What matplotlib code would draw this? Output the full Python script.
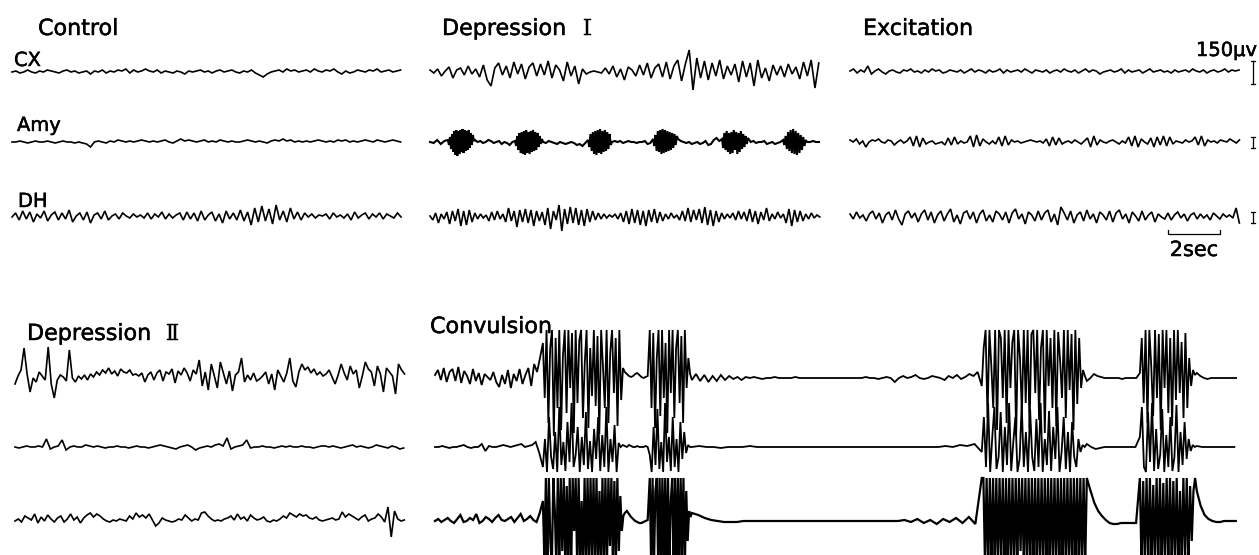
import numpy as np
import matplotlib
matplotlib.use('Agg')
import matplotlib.pyplot as plt
import matplotlib.patheffects as pe

# EEG TRACES: CONTROL / DEPRESSION I / EXCITATION / DEPRESSION II / CONVULSION
# -----------------------------------------------------------------------------

# DATA (pen deflection, px; positive = upward). -------------------------------

CHANNELS = ['CX', 'Amy', 'DH']
CONDITIONS_TOP = ['Control', 'Depression', 'Excitation']
CONDITIONS_BOTTOM = ['Depression', 'Convulsion']
STAGE_NUMERALS = ['\u2160', '\u2161']  # Roman I (top), II (bottom)

CTRL_CX = [0, 1, -1, 0, 2, 0, -1, 1, 0, 2, 1, 0, -1, 1, 2, 0, 1, -1, 0, 1,
           -2, 1, 0, 2, -1, 1, 0, 2, 1, 3, -1, 2, 0, 1, 3, 1, 0, 2, -1, 1,
           0, -1, 1, 0, -2, 1, 0, 1, 2, 0, 1, -1, 1, 2, 0, 1, 2, 0, -1, 1,
           0, 2, -1, -3, -5, -2, 0, 1, 2, 0, 3, 1, 2, 0, 1, 2, 0, 3, 1, 0,
           2, 1, 3, 0, -2, 1, -1, 0, 2, 1, 0, 2, 1, 3, 0, 1, 2, 0, 1, 2]
CTRL_AMY = [0, 0, 1, 0, -1, 0, 1, 0, 0, 1, 0, -1, 0, 1, 0, 0, -1, 0, -1, -2,
            -5, 0, 1, 0, -1, 1, 0, 2, 1, 0, 1, 0, 1, 2, 1, 0, 1, 0, 1, 2,
            0, -1, 1, 3, 1, 2, 1, 0, 1, 2, 0, 1, 0, 2, 1, 0, 1, 0, 0, 1,
            2, 1, 0, 1, 0, -1, 1, 2, 1, 3, 1, 2, 0, 1, 0, 1, 0, 1, 2, 1,
            0, 1, 0, 2, 1, 2, 0, 1, 0, 1, 2, 1, 0, 2, 1, 0, 1, 2, 1, 0]
CTRL_DH = [0, 4, -3, 6, -2, 5, -5, 3, -1, 6, -4, 2, 5, -3, 4, -2, 7, -5, 1, 4,
           -3, 5, -6, 2, 4, -2, 6, -3, 1, 3, -2, 4, 1, -1, 3, 0, 2, -1, 4, -2,
           3, 0, 5, -2, 3, -1, 2, 4, -3, 5, -2, 4, -4, 6, -3, 2, 5, -4, 3, -6,
           6, -2, 4, -3, 7, -4, 5, -8, 9, -5, 11, -4, 8, -7, 12, -3, 6, -5, 9, -2,
           5, -3, 4, 0, 3, -1, 2, 1, 3, -2, 4, 0, 2, -1, 3, -3, 5, -1, 2, 4,
           -2, 3, 0, 4, -2, 3, 1, -1, 4, 0]

DEP1_CX = [2, -1, 3, -4, 1, 5, -6, 2, 4, -3, 6, -2, 3, -5, 7, -8, -14, 4, 9, -3,
           6, -6, 10, -2, 8, -7, 5, 9, -4, 8, -3, 11, -6, 7, 2, -9, 10, -4, 6, -12,
           3, -2, 0, 1, 0, -1, 4, -2, 6, -5, 3, -8, 5, 2, -4, 7, -3, 9, -6, 4,
           8, -5, 10, -7, 6, 12, -9, 8, 22, -18, 14, -6, 11, -8, 9, -4, 12, -7, 6, -3,
           8, -10, 11, -5, 9, -14, 12, -6, 4, -9, 7, -3, 6, -5, 8, -2, 5, -7, 10, -4,
           12, -16, 9]
# Amygdala spindle bursts: alternating quiet / burst stretches (seconds).
DEP1_AMY_SEC = [0.69, 1.04, 1.54, 1.08, 1.73, 0.92, 1.58, 0.96, 1.69, 1.00,
                1.35, 0.92, 0.58]
DEP1_AMY = [
    [0, -1, 2, -2, 1],
    [2, -3, 5, -7, 8, -10, 11, -13, 12, -14, 11, -12, 12, -10, 13, -11, 12,
     -9, 11, -8, 12, -6, 9, -3, 7, 1],
    [2, 0, 1, -1, 0, 2, 1, -1, 0, 1, -2, 0, -1, -3, 0],
    [1, -4, 6, -8, 9, -11, 10, -12, 11, -13, 12, -11, 10, -12, 11, -10, 12,
     -9, 10, -8, 9, -5, 6, -2, 3],
    [0, -1, 1, 0, -1, -2, 0, -1, -2, -1, 0, -1, -3, -2, -4, -1],
    [2, -5, 8, -9, 10, -12, 11, -13, 12, -11, 13, -12, 11, -10, 12, -9, 10,
     -7, 8, -3],
    [0, 1, 0, 1, -1, 0, 1, 0, 0, -1, 0, 0, 1, -2, -1],
    [3, -4, 7, -9, 11, -10, 12, -12, 13, -11, 12, -10, 11, -9, 10, -8, 9, -6,
     8, -3, 6],
    [3, 1, 0, -1, 0, -2, -1, 0, -2, -1, 1, -3, -2, 2, 4, 1],
    [3, -6, 9, -8, 11, -10, 9, -12, 10, -11, 12, -8, 10, -12, 9, -10, 11, -7,
     8, -5, 6, -2],
    [4, 0, 1, -1, 0, 0, 1, -2, -1, 0, -2, -1, 0],
    [2, -3, 6, -7, 10, -9, 12, -11, 13, -12, 11, -13, 9, -11, 7, -8, 5, -4, 2],
    [0, 0, 1, 0, 0]]
DEP1_DH = [1, -3, 4, -6, 3, -2, 5, -7, 6, -4, 8, -9, 6, -8, 7, -5, 4, -2, 3, -1,
           2, -4, 5, -3, 6, -2, 3, -5, 9, -4, 6, -10, 7, -5, 8, -6, 7, -9, 6, -4,
           5, -8, 9, -12, 6, -3, 12, -14, 8, -7, 10, -6, 9, -8, 7, -9, 8, -5, 6, -3,
           4, -2, 3, -1, 2, 0, 3, -2, 4, -5, 6, -7, 8, -6, 7, -8, 6, -9, 7, -5,
           8, -6, 5, -4, 3, -2, 4, -1, 2, -3, 6, -4, 9, -5, 7, -3, 8, -6, 10, -8,
           7, -9, 6, -5, 4, -2, 3, -1, 4, -3, 6, -2, 5, -4, 8, -5, 6, -7, 5, -3,
           9, -4, 3, -2, 5, -1, 3, -6, 8, -9, 7, -5, 6, -4, 3, -2, 4, -1, 2, 0]

EXC_CX = [1, 3, -1, 2, 0, 6, -2, 1, 3, 0, -2, 1, 2, 0, -1, 2, 1, 3, 0, 1,
          -1, 2, 0, 3, 1, 2, -1, 0, 2, 1, 0, 2, -1, 1, 3, 0, 2, 1, -1, 2,
          0, 1, 3, -1, 2, 0, 1, 2, 0, 3, 1, -1, 2, 1, 0, 2, -1, 1, 2, 0,
          3, 1, 0, 2, -1, 1, 3, 0, 2, 1, -2, 0, 1, 2, 0, 1, 3, -1, 2, 0,
          1, 2, -1, 1, 3, 0, 1, 2, 0, 1, -1, 2, 0, 1, 2, 0, 3, 1, 0, 2,
          -1, 1, 2, 0, 1, 3, 0, 2, 1, 2]
EXC_AMY = [2, 0, 3, -2, 1, -5, 0, 2, 1, 3, 0, -1, 2, 1, -3, 0, 2, -1, 1,
           5, -4, 6, -5, 4, -2, 0, 1, -2, -1, 0, -3,
           4, -3, 5, -2, 1, -1, 0,
           6, -5, 7, -4, 3, 0, -2,
           1, -2, 5, -4, 6, -3, 2, 0, 1, -1, 0, 1, 2, 1, 0, 1, -1,
           3, -4, 5, -3, 4, -2, 0, 1, -1, 2, 0, -2, 1,
           4, -5, 6, -3, 2, 0, -1, 1, 2, 0, -2, 1, -1,
           5, -4, 6, -5, 3, 0, -2,
           4, -5, 5, -3,
           6, -4, 5, -2, 1, 0, -1, 2, 0, 1,
           5, -3, 6, -4, 2, 0, 1, -1, 2, 1, 0, 3, 1, -1, 2]
EXC_DH = [3, -2, 5, -1, 2, -4, 3, 6, -2, 4, -6, 2, 5, -3, 7, -2, -8, 3, 6, -1,
          4, -5, 3, 7, -3, 5, -6, 2, 6, -4, 3, 8, -5, 2, -7, 4, 6, -2, 5, -6,
          3, 7, -4, 2, -5, 6, 3, -3, 5, -6, 4, 8, -2, 3, -7, 5, 2, -4, 6, -3,
          4, 7, -5, 3, -8, 10, 4, -3, 6, -6, 2, 5, -4, 7, -2, 3, -6, 5, 2, -3,
          6, -5, 4, 7, -2, 3, -6, 5, 1, -4, 6, -3, 2, 5, -5, 3, 0, -2, 4, -3,
          2, 5, -1, 3, -4, 2, 4, -2, 3, -1, 2, -3, 4, 1, -2, 3, 0, 2, -1, 9, -6]

DEP2_CX = [-6, 2, 8, 30, 4, -14, 0, -4, 6, 2, -2, 31, -6, -20, -2, 3, 1, -3, 28, 0,
           -4, 2, -1, 3, -2, 4, 1, 6, 3, 8, 5, 10, 4, 7, 2, 9, 6, 5, 8, 3,
           4, 2, 5, -4, 3, 6, -2, 5, 8, -3, 6, 4, 9, -5, 7, 3, 10, 5, -3, 8,
           4, 18, -8, 6, -12, 14, 2, -10, 16, 5, -6, 7, -13, 3, 6, 20, -4, 3, -2, 5,
           -3, -1, 2, 6, -6, 4, -12, 8, 2, -4, 5, 20, -3, -9, 6, 14, 8, 11, 5, 9,
           3, 6, 2, 4, 8, 1, -6, 3, 14, 5, -2, 12, 4, 8, -10, 2, 16, 9, 6, -8,
           12, 4, -14, 10, 6, 2, -16, 14, 8, 4]
DEP2_AMY = [0, -1, 0, 1, 0, 0, 1, 0, 8, -2, 0, 1, 7, -3, 0, 1, 0, 0, 2, 1,
            0, 1, 0, -1, 0, 0, 1, 0, 0, -1, 0, 1, 0, 0, -1, 0, 1, 2, 1, 0,
            -1, -2, 0, 1, 2, 0, -3, -1, 0, 1, 0, 2, 3, 1, 9, -2, 0, 1, 2, 7,
            -1, 0, 0, 1, 0, 0, -1, 0, 1, 0, 1, 0, 0, 1, 0, 0, -1, 0, 1, 1,
            0, 1, 0, -1, 0, 1, 2, 0, 1, 0, -1, 0, 2, 1, 0, -1, 1, 0, -2, -1]
DEP2_DH = [0, 2, -1, 5, 3, 1, 7, -2, 4, 0, 6, 2, -1, 3, 5, -1, 2, 7, 1, 4,
           -2, 3, 6, 8, 4, 7, 5, 2, 0, -1, 1, 0, 2, 1, 0, 5, 2, 8, 4, 6,
           3, 7, 1, -5, -2, 3, 1, 0, -1, 0, 2, 1, 6, 3, 0, 2, 1, 8, 9, 5,
           2, 0, 1, 0, 2, 3, 5, 1, 7, 2, 4, 0, 6, 3, 1, 2, 4, 0, -1, 1,
           0, 2, 5, 3, 8, 6, 4, 7, 5, 6, 3, 2, 4, 1, 0, 1, 2, 3, 1, 2,
           9, 4, 7, 5, 3, 1, 4, 6, 0, 2, 3, 7, 4, -1, 14, -16, 10, 2, 0, 1]

# Convulsion: pre-ictal, burst, pause, burst, silence, burst, pause, burst, end.
CONV_SEC = [4.15, 3.15, 0.96, 1.62, 11.15, 4.04, 2.04, 2.19, 1.65]
CONV_CX = [
    [3, 8, -2, 10, -4, 6, 9, -3, 11, -5, 7, 2, -6, 9, -3, 5, -7, 4, 1, -2, 6,
     -4, -9, 3, -6, 8, -10, 4, -3, 9, -6, 3, 10, -8, 14, 6, 20],
    [35, -20, 48, -45, 30, 48, -58, 40, -30, 48, -52, 22, 48, -35, 48, -10, 45,
     -55, 48, -25, 38, 48, -40, 15, 48, -50, 30, -18, 48, -28, 42, -56, 48, 12,
     -30, 48, -45, 26, 48, -15, 40, -48, 48, -22, 10],
    [6, 4, 2, 1, 2, 4, 5, 3, 1, 0, 1, 2],
    [48, -30, 45, -50, 20, 48, -38, 48, -20, 35, -55, 48, -15, 48, -40, 30, 48,
     -25, 42, -45, 48, -10, 20, 4],
    [-2, 4, -3, 3, -4, 2, -3, 3, -2, 2, -1, 1, -2, 1, 0, 1, 0, -1, 0, 0, 1, 0,
     0, 0, 0, 1, 0, 0, 0, 0, 0, 0, 0, 0, 0, 0, 0, 0, 0, 0, 0, 0, 1, 0, 0, -1,
     0, 1, 0, -4, 0, 2, 0, 1, 3, 0, -1, 0, 2, 1, 0, -2, 2, 0, 3, -1, 1, 4, 2, 6],
    [-8, 30, 48, -40, 48, 12, -30, 48, -52, 48, 40, -20, 48, -45, 48, -10, 36,
     48, -58, 48, 20, -35, 48, -25, 48, -50, 44, 48, -15, 48, -42, 30, 48, -55,
     48, -8, 40, -30, 48, -48, 46, 18, -20, 48, -40, 48, -12, 44, -52, 48, -26,
     40, -10, 8, 2],
    [-3, 0, 4, 2, 1, 0, 0, 0, 0, 0, -1, 0, 0, 0, 0],
    [5, 40, -25, 48, -45, 48, 12, -38, 48, -20, 44, -52, 48, -10, 48, -35, 40,
     -48, 48, -22, 48, -15, 36, -40, 45, -30, 20, -8, 8, 3],
    [5, 2, 0, -1, 0, 0, 0, 0, 0, 0, 0, 0]]
CONV_AMY = [
    [0, 0, 1, 0, -1, 0, 0, 1, 2, 0, -1, 0, 0, 3, -4, 1, 0, 0, 1, 2, 1, 0, 1, 2,
     3, 0, 1, 2, 5, -6],
    [-20, 8, -25, 30, -10, -22, 15, -25, 40, -18, 5, -24, 25, -15, 44, -20, -8,
     20, -25, 10, -18, 35, -22, 6, -25, 18, -12, 30, -24, 12, -20, 40, -25, 8,
     -15, 22, -25, 4, 0, 2],
    [1, 0, 2, 1, 0, 0, 1, 0, 0, 0, 1, 0],
    [-8, -25, 20, -18, 38, -22, 5, -25, 44, -15, 10, -24, 30, -20, 8, -25, 25,
     -12, 15, -6, 2, 0],
    [0, 1, 0, 0, -1, 0, 0, 0, 1, 0, 0, 0, 0, 0, 0, 0, 0, 0, 0, 0, 0, 0, 0, 0,
     0, 0, 0, 0, 0, 0, 0, 0, 0, 0, 0, 1, 0, 2, 1, 3],
    [-5, 30, -20, 44, -25, 10, 40, -22, -10, 35, -25, 20, -18, 44, -24, 5, 30,
     -25, -12, 42, -20, 15, -25, 38, -10, -24, 28, -20, 44, -25, 8, -18, 36,
     -24, 20, -12, 40, -25, -5, 30, -22, 15, -25, 25, -10, -20, 8, -5, 2, 0],
    [3, 0, -2, -1, 0, 0, 0, 0, 0, 0, 0, 0],
    [10, 40, -20, -25, 35, -15, 44, -24, 18, -22, -8, 38, -25, 12, -20, 30, -24,
     -10, 42, -25, 15, -18, 25, -12, 8, -4, 2, 0],
    [1, 0, 0, 0, 0, 0, 0, 0]]
CONV_DH = [
    [0, 2, -1, 1, 3, 0, -2, 2, 6, -1, 0, 3, 1, 7, -2, 0, 4, 2, -1, 3, 6, 1, 0,
     2, 4, -1, 3, 7, 0, 2, 5, 1, -1, 8],
    [20, -40, 43, -45, 43, -20, -45, 43, 10, -45, 43, -40, 43, -30, 43, -45, 35,
     -45, 43, -45, 43, -10, 43, -45, 43, -45, 20, -45, 43, -45, 43, -45, 43,
     -38, 43, -45, 43, -45, 30, -45, 43, -45, 43, -45, 43, -25, 43, -45, 40,
     -45, 43, -30, 25, -10, 5],
    [8, 10, 7, 4, 2, 0, -1, -2, -2, -1, 0, 1],
    [43, -45, 43, -45, 30, 43, -45, 43, -45, 43, -40, 43, -45, 43, -45, 20, 43,
     -45, 43, -45, 43, -45, 43, -35, 43, -45, 30, -20, 10, 4],
    [8, 6, 3, 1, 0, -1, -1, -1, 0, 0, 0, 0, 0, 0, 0, 0, 0, 0, 0, 0, 0, 0, 0, 0,
     0, 0, 0, 0, 0, 0, 0, 0, 0, 1, -1, 2, -2, 1, -3, 2, -1, 3, -2, 4, -3],
    [43, 43, -45, 43, -45, 43, -45, 43, -45, 43, -45, 43, -40, 43, -45, 43, -45,
     43, -45, 43, -45, 43, -45, 43, -30, 43, -45, 43, -45, 43, -45, 43, -45,
     43, -45, 43, -45, 43, -45, 43, -45, 43, -45, 43, -45, 43, -45, 43, -45,
     43, -45, 43, -45, 43, -45, 43, -45, 43, -45, 43, -45, 43, -45, 43, -45],
    [43, 30, 18, 10, 5, 1, -2, -3, -3, -2, -2, -2, -2, -2],
    [43, -45, 40, -45, 43, -40, 43, -45, 36, -45, 43, -42, 43, -45, 38, -45, 43,
     -40, 43, -45, 40, -45, 43, -45, 30, -45, 43, -38, 43, -45, 35, -20, 30,
     43],
    [30, 15, 6, 2, 0, -1, -1, 0, 0, 0, 0]]

# LAYOUT. ---------------------------------------------------------------------

W, H = 1259, 555
PX_PER_SEC = 26.0  # 2 sec = 52 px on the time bar.
TOP_SEC = 15.1
TOP_X = [12, 430, 850]
TOP_Y = [72, 142, 217]
BOT_X = [15, 435]
BOT_Y = [378, 447, 521]
CAL_UV = 150
CAL_BAR_PX = [23, 11, 11]  # Length of the 150 uV bar for CX, Amy, DH.
CAL_X = 1253
TIME_BAR_SEC = 2
TIME_BAR_X, TIME_BAR_Y = 1168, 234

FONT = 'DejaVu Sans'
INK = [pe.withStroke(linewidth=0.35, foreground='black')]  # scanned-ink weight


def draw_trace(ax, x_start, base_y, widths_sec, chunks, lw=1.0):
    """Plot a trace made of consecutive stretches of evenly spaced samples."""
    xs, ys = [], []
    t = 0.0
    for w, vals in zip(widths_sec, chunks):
        n = len(vals)
        xs.append(t + w * np.arange(n) / n)
        ys.append(np.asarray(vals, dtype=float))
        t += w
    x = x_start + np.concatenate(xs) * PX_PER_SEC
    y = base_y - np.concatenate(ys)
    ax.plot(x, y, color='black', lw=lw, solid_joinstyle='miter')


# PLOT. -----------------------------------------------------------------------

fig = plt.figure(figsize=(W / 100, H / 100), dpi=100)
ax = fig.add_axes([0, 0, 1, 1])
ax.set_xlim(0, W)
ax.set_ylim(H, 0)
ax.axis('off')

# Top row: single stretches.
top_traces = [[CTRL_CX, CTRL_AMY, CTRL_DH],
              [DEP1_CX, None, DEP1_DH],
              [EXC_CX, EXC_AMY, EXC_DH]]
for c, col in enumerate(top_traces):
    for r, vals in enumerate(col):
        if vals is None:
            continue
        draw_trace(ax, TOP_X[c], TOP_Y[r], [TOP_SEC], [vals], lw=1.2)
draw_trace(ax, TOP_X[1], TOP_Y[1], DEP1_AMY_SEC, DEP1_AMY, lw=1.5)

# Bottom row.
for r, vals in enumerate([DEP2_CX, DEP2_AMY, DEP2_DH]):
    draw_trace(ax, BOT_X[0], BOT_Y[r], [TOP_SEC], [vals], lw=1.2)
for r, chunks in enumerate([CONV_CX, CONV_AMY, CONV_DH]):
    draw_trace(ax, BOT_X[1], BOT_Y[r], CONV_SEC, chunks,
               lw=1.6 if r == 2 else 1.3)

# Labels.
title_kw = dict(fontsize=16, family=FONT, va='baseline', ha='left',
                path_effects=INK)
num_kw = dict(fontsize=16, family='DejaVu Serif', va='baseline', ha='left',
              path_effects=INK)
ax.text(38, 35, CONDITIONS_TOP[0], **title_kw)
ax.text(442, 35, CONDITIONS_TOP[1], **title_kw)
ax.text(583, 35, STAGE_NUMERALS[0], **num_kw)
ax.text(863, 35, CONDITIONS_TOP[2], **title_kw)
ax.text(27, 340, CONDITIONS_BOTTOM[0], **title_kw)
ax.text(166, 340, STAGE_NUMERALS[1], **num_kw)
ax.text(430, 333, CONDITIONS_BOTTOM[1], **title_kw)

chan_kw = dict(fontsize=14, family=FONT, va='baseline', ha='left',
               path_effects=INK)
for name, (lx, ly) in zip(CHANNELS, [(14, 66), (17, 131), (18, 207)]):
    ax.text(lx, ly, name, **chan_kw)

# Calibration bars.
ax.text(1257, 56, f'{CAL_UV}\u03bcv', fontsize=14, family=FONT,
        va='baseline', ha='right', path_effects=INK)
for r, length in enumerate(CAL_BAR_PX):
    y0, y1 = TOP_Y[r] - length / 2, TOP_Y[r] + length / 2
    ax.plot([CAL_X, CAL_X], [y0, y1], color='black', lw=0.9)
    for yy in (y0, y1):
        ax.plot([CAL_X - 2, CAL_X + 2], [yy, yy], color='black', lw=0.9)

tx1 = TIME_BAR_X + TIME_BAR_SEC * PX_PER_SEC
ax.plot([TIME_BAR_X, TIME_BAR_X, tx1, tx1],
        [TIME_BAR_Y - 4, TIME_BAR_Y, TIME_BAR_Y, TIME_BAR_Y - 4],
        color='black', lw=0.9)
ax.text((TIME_BAR_X + tx1) / 2, 256, f'{TIME_BAR_SEC}sec', fontsize=15,
        family=FONT, va='baseline', ha='center', path_effects=INK)

fig.savefig('out.png', dpi=100)
